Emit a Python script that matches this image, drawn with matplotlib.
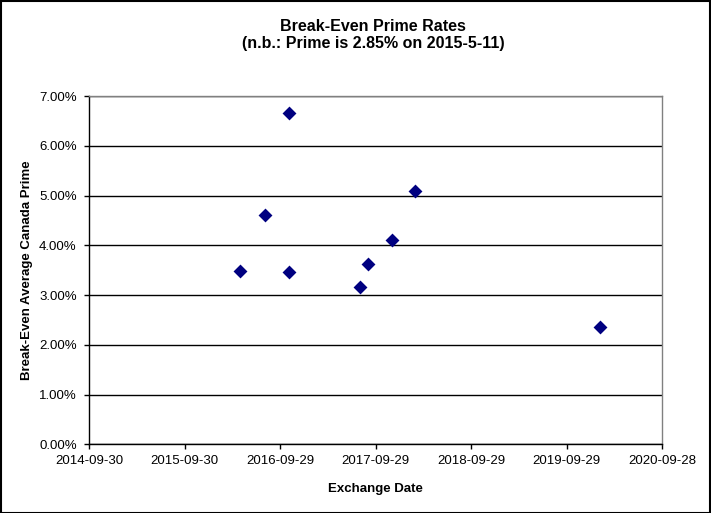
import matplotlib
matplotlib.use("Agg")
import matplotlib.pyplot as plt
import matplotlib.dates as mdates
from matplotlib.patches import Rectangle
from matplotlib.ticker import FuncFormatter, MultipleLocator
import numpy as np

plt.rcParams['font.family'] = ['Liberation Sans', 'DejaVu Sans']

# Data
exchange_dates = ["2016-04-28", "2016-08-03", "2016-11-01", "2016-11-01",
                  "2017-08-01", "2017-08-31", "2017-12-01", "2018-02-27",
                  "2020-02-01"]
break_even_rates = [3.48, 4.61, 6.66, 3.47, 3.16, 3.63, 4.10, 5.09, 2.35]
x_tick_labels = ["2014-09-30", "2015-09-30", "2016-09-29", "2017-09-29",
                 "2018-09-29", "2019-09-29", "2020-09-28"]
title_text = "Break-Even Prime Rates\n(n.b.: Prime is 2.85% on 2015-5-11)"
x_label = "Exchange Date"
y_label = "Break-Even Average Canada Prime"

fig = plt.figure(figsize=(7.11, 5.13), dpi=100)
ax = fig.add_axes([89.3 / 711, (513 - 444.3) / 513, (662.3 - 89.3) / 711, (444.3 - 96) / 513])

x = np.array(exchange_dates, dtype='datetime64[D]')
x_num = mdates.date2num(x)
ax.scatter(x_num, break_even_rates, marker='D', s=50, color='#000080', zorder=3, linewidths=0)

ticks = mdates.date2num(np.array(x_tick_labels, dtype='datetime64[D]'))
ax.set_xlim(ticks[0], ticks[-1])
ax.set_xticks(ticks)
ax.set_xticklabels(x_tick_labels)
ax.set_ylim(0, 7)
ax.yaxis.set_major_locator(MultipleLocator(1))
ax.yaxis.set_major_formatter(FuncFormatter(lambda v, p: f"{v:.2f}%"))

ax.grid(axis='y', color='black', linewidth=1.0, zorder=1)
ax.set_axisbelow(True)
for s in ['left', 'bottom']:
    ax.spines[s].set_color('black')
    ax.spines[s].set_linewidth(1.0)
for s in ['right', 'top']:
    ax.spines[s].set_color('#808080')
    ax.spines[s].set_linewidth(1.0)

ax.tick_params(axis='both', direction='out', length=3.5, width=1, color='black',
               labelsize=9.5, labelcolor='black')
ax.tick_params(axis='y', pad=5.5)
ax.tick_params(axis='x', pad=4)

ax.set_xlabel(x_label, fontsize=9.5, fontweight='bold', labelpad=12)
ax.set_ylabel(y_label, fontsize=9.5, fontweight='bold', labelpad=4)

fig.text(373 / 711, 1 - 35 / 513, title_text, ha='center', va='center',
         fontsize=11.5, fontweight='bold', linespacing=1.15)

fig.patches.append(Rectangle((0.5 / 711, 0.5 / 513), 1 - 1.5 / 711, 1 - 1.5 / 513,
                             transform=fig.transFigure, fill=False,
                             edgecolor='black', linewidth=1.5))

fig.savefig("out.png", dpi=100)
